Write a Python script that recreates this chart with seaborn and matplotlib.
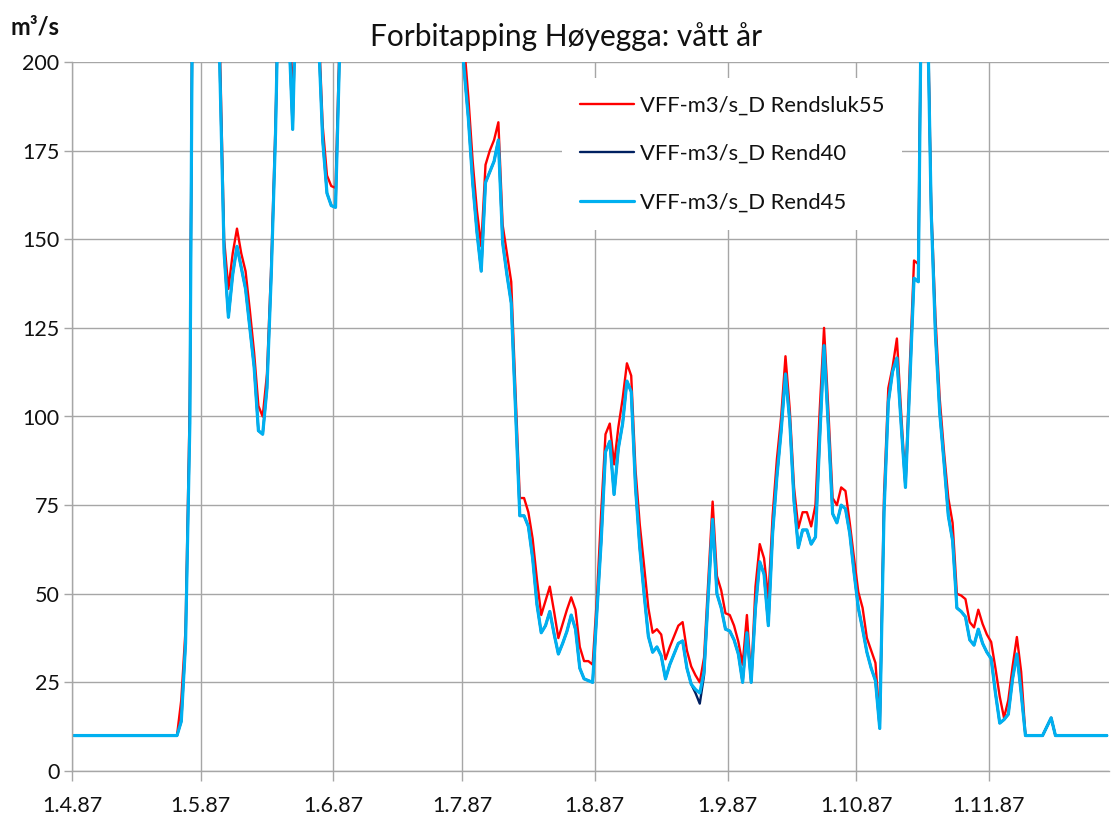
import pandas as pd
import matplotlib
matplotlib.use("Agg")
import matplotlib.pyplot as plt
import matplotlib.dates as mdates
from matplotlib.ticker import FuncFormatter, FixedLocator
import seaborn as sns

# ---------------- data ----------------
title = "Forbitapping Høyegga: vått år"
unit_label = "m³/s"
series_names = ["VFF-m3/s_D Rendsluk55", "VFF-m3/s_D Rend40", "VFF-m3/s_D Rend45"]
start_date = "1987-04-01"
y_ticks = [0, 25, 50, 75, 100, 125, 150, 175, 200]

rendsluk55 = [
    # April
    10, 10, 10, 10, 10, 10, 10, 10, 10, 10, 10, 10, 10, 10, 10, 10, 10, 10, 10, 10,
    10, 10, 10, 10, 10, 20, 40, 105, 300, 320,
    # May
    330, 310, 290, 260, 205, 150, 136, 146, 153, 146, 141, 130, 118, 103, 100, 112,
    143, 183, 240, 250, 215, 190, 230, 260, 280, 270, 245, 212, 182, 168, 165,
    # June
    164.5, 210, 250, 280, 300, 320, 310, 290, 280, 300, 330, 350, 340, 320, 300,
    290, 310, 330, 320, 300, 280, 270, 280, 290, 270, 260, 250, 240, 230, 220,
    # July
    205, 190, 172, 158, 148, 171, 175, 178, 183, 154, 146, 138, 107, 77, 77, 73,
    65.5, 54, 44, 48, 52, 45, 37.5, 41.5, 45.5, 49, 45.5, 35, 31, 31, 30,
    # August
    49, 73, 95, 98, 86.5, 97, 105, 115, 111.5, 85, 69.5, 58, 46, 39, 40, 38.5,
    31.5, 35, 38, 41, 42, 34, 29.5, 27, 25, 32, 54, 76, 55, 51, 44.5,
    # September
    44, 41, 36.5, 30, 44, 26, 52, 64, 60, 48.6, 72, 88, 100, 117, 102, 80, 68.5,
    73, 73, 69, 75, 102, 125, 102, 77, 75, 80, 79, 70, 60,
    # October
    50.5, 46, 37.5, 34, 30.5, 14, 78, 108, 114, 122, 101, 81, 114, 144, 143, 260,
    230, 160, 128, 105, 90, 77, 70, 50, 49.5, 48.5, 42, 40.5, 45.5, 41.5, 38.5,
    # November
    36.4, 29, 21, 15, 20, 29.5, 37.8, 28, 10, 10, 10, 10, 10, 12.5, 15, 10, 10,
    10, 10, 10, 10, 10, 10, 10, 10, 10, 10, 10,
]

rend40 = [
    # April
    10, 10, 10, 10, 10, 10, 10, 10, 10, 10, 10, 10, 10, 10, 10, 10, 10, 10, 10, 10,
    10, 10, 10, 10, 10, 14, 36, 98, 300, 320,
    # May
    330, 310, 290, 260, 198, 146, 128, 140, 148, 142, 136, 125, 114, 96, 95, 108,
    140, 180, 240, 250, 212, 181, 230, 260, 280, 270, 245, 208, 178, 163, 159.5,
    # June
    159, 205, 245, 275, 295, 315, 305, 285, 275, 295, 325, 345, 335, 315, 295,
    285, 305, 325, 315, 295, 275, 265, 275, 285, 265, 255, 245, 235, 225, 215,
    # July
    198, 184, 166, 152, 141, 166, 169, 172, 178, 149, 140, 132, 102, 72, 72, 69,
    60, 47, 39, 41, 45, 38.7, 33, 36, 39.4, 44, 40, 29, 26, 25.5, 25,
    # August
    45, 65, 90, 93, 78, 91, 98, 110, 107, 80, 63, 50, 38, 33.5, 35, 32.5,
    26, 30, 33, 36, 36.7, 29, 24.5, 22, 19, 27, 50, 71, 50, 46, 40,
    # September
    39.5, 37, 33, 25, 39, 25, 46, 59, 55.5, 41, 67, 83, 96, 112, 98.6, 76, 63,
    68, 68, 64, 66, 94, 120, 97, 72.6, 70, 75, 74, 67, 56,
    # October
    46, 40, 33.5, 29, 25.5, 12, 73, 104, 112.7, 116.5, 97.6, 80, 109, 139, 138,
    255, 225, 158, 123, 101, 87, 72, 65, 46, 45, 43.5, 37, 35.5, 40, 36, 33.5,
    # November
    31.7, 22, 13.5, 14.5, 16, 26, 33, 22, 10, 10, 10, 10, 10, 12.5, 15, 10, 10,
    10, 10, 10, 10, 10, 10, 10, 10, 10, 10, 10,
]

rend45 = [
    # April
    10, 10, 10, 10, 10, 10, 10, 10, 10, 10, 10, 10, 10, 10, 10, 10, 10, 10, 10, 10,
    10, 10, 10, 10, 10, 14, 36, 98, 300, 320,
    # May
    330, 310, 290, 260, 198, 146, 128, 140, 148, 142, 136, 125, 114, 96, 95, 108,
    140, 180, 240, 250, 212, 181, 230, 260, 280, 270, 245, 208, 178, 163, 159.5,
    # June
    159, 205, 245, 275, 295, 315, 305, 285, 275, 295, 325, 345, 335, 315, 295,
    285, 305, 325, 315, 295, 275, 265, 275, 285, 265, 255, 245, 235, 225, 215,
    # July
    198, 184, 166, 152, 141, 166, 169, 172, 178, 149, 140, 132, 102, 72, 72, 69,
    60, 47, 39, 41, 45, 38.7, 33, 36, 39.4, 44, 40, 29, 26, 25.5, 25,
    # August
    45, 65, 90, 93, 78, 91, 98, 110, 107, 80, 63, 50, 38, 33.5, 35, 32.5,
    26, 30, 33, 36, 36.7, 29, 24.5, 23, 22, 28, 50, 71, 50, 46, 40,
    # September
    39.5, 37, 33, 25, 39, 25, 46, 59, 55.5, 41, 67, 83, 96, 112, 98.6, 76, 63,
    68, 68, 64, 66, 94, 120, 97, 72.6, 70, 75, 74, 67, 56,
    # October
    46, 40, 33.5, 29, 25.5, 12, 73, 104, 112.7, 116.5, 97.6, 80, 109, 139, 138,
    255, 225, 158, 123, 101, 87, 72, 65, 46, 45, 43.5, 37, 35.5, 40, 36, 33.5,
    # November
    31.7, 22, 13.5, 14.5, 16, 26, 33, 22, 10, 10, 10, 10, 10, 12.5, 15, 10, 10,
    10, 10, 10, 10, 10, 10, 10, 10, 10, 10, 10,
]

# ---------------- style ----------------
sns.set_style("white")
plt.rcParams["font.family"] = ["Lato", "DejaVu Sans"]

colors = ["#FF0000", "#002060", "#00B0F0"]
widths = [1.7, 1.7, 2.3]
grid_color = "#A6A6A6"
text_color = "#111111"

n = len(rend45)
# Excel "between tick marks": each daily value sits in the middle of its day
dates = pd.date_range(start_date, periods=n, freq="D") + pd.Timedelta(hours=12)
df = pd.DataFrame({"date": dates, series_names[0]: rendsluk55,
                   series_names[1]: rend40, series_names[2]: rend45})

fig = plt.figure(figsize=(11.11, 8.21), dpi=100)
ax = fig.add_axes([72 / 1111, 50 / 821, 1037 / 1111, 709 / 821])

for name, col, lw in zip(series_names, colors, widths):
    sns.lineplot(data=df, x="date", y=name, ax=ax, color=col, linewidth=lw,
                 label=name, solid_joinstyle="round", solid_capstyle="round")

ax.set_xlim(pd.Timestamp(start_date), pd.Timestamp(start_date) + pd.Timedelta(days=n))
ax.set_ylim(0, 200)
ax.yaxis.set_major_locator(FixedLocator(y_ticks))
ax.xaxis.set_major_locator(mdates.MonthLocator())
ax.xaxis.set_major_formatter(FuncFormatter(
    lambda v, p: (lambda d: f"{d.day}.{d.month}.{d.year % 100:02d}")(mdates.num2date(v))))

ax.set_xlabel("")
ax.set_ylabel("")
ax.grid(True, color=grid_color, linewidth=1.0)
ax.set_axisbelow(True)
for s in ["top", "right"]:
    ax.spines[s].set_visible(False)
for s in ["left", "bottom"]:
    ax.spines[s].set_color(grid_color)
    ax.spines[s].set_linewidth(1.0)
ax.tick_params(axis="x", direction="out", length=7, width=1.0, color=grid_color,
               labelsize=15.5, labelcolor=text_color, pad=11, bottom=True)
ax.tick_params(axis="y", direction="out", length=6, width=1.0, color=grid_color,
               labelsize=15.5, labelcolor=text_color, pad=3, left=True)

leg = ax.legend(loc="upper left", bbox_to_anchor=(0.462, 0.993), fontsize=15.8,
                frameon=True, fancybox=False, framealpha=1, facecolor="white",
                edgecolor="none", borderpad=0.8, labelspacing=1.3,
                handlelength=2.5, handletextpad=0.25)
for t in leg.get_texts():
    t.set_color(text_color)

fig.text(566 / 1111, 1 - 37 / 821, title, ha="center", va="center",
         fontsize=21.5, color=text_color)
fig.text(11 / 1111, 1 - 27 / 821, unit_label, ha="left", va="center",
         fontsize=17, fontweight="bold", color=text_color)

fig.savefig("out.png", dpi=100)
